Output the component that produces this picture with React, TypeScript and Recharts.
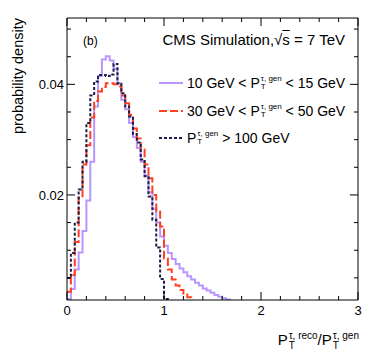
import React from 'react';
import { LineChart, Line, XAxis, YAxis } from 'recharts';

// bin low edges (last entry closes the histogram range)
const binEdges = [
  0, 0.04, 0.08, 0.12, 0.16, 0.2, 0.24, 0.28, 0.32, 0.36, 0.4, 0.44, 0.48, 0.52, 0.56,
  0.6, 0.64, 0.68, 0.72, 0.76, 0.8, 0.84, 0.88, 0.92, 0.96, 1, 1.04, 1.08, 1.12, 1.16,
  1.2, 1.24, 1.28, 1.32, 1.36, 1.4, 1.44, 1.48, 1.52, 1.56, 1.6, 1.64, 1.68, 3,
];

const pt10to15 = [
  0.0012, 0.003, 0.0065, 0.0096, 0.0135, 0.019, 0.026, 0.036, 0.0415, 0.0445, 0.0451, 0.0443, 0.0428, 0.0402, 0.0372,
  0.0355, 0.033, 0.0305, 0.0285, 0.026, 0.0235, 0.0205, 0.0175, 0.015, 0.0125, 0.0108, 0.0095, 0.0084, 0.0075, 0.0067,
  0.006, 0.0053, 0.0047, 0.0041, 0.0036, 0.0031, 0.0027, 0.0023, 0.0019, 0.0016, 0.0013, 0.0011, 0, 0,
];

const pt30to50 = [
  0.0025, 0.0055, 0.0115, 0.0195, 0.0255, 0.029, 0.034, 0.037, 0.0387, 0.0395, 0.0402, 0.0402, 0.04, 0.0396, 0.038,
  0.0366, 0.0345, 0.032, 0.0302, 0.0282, 0.0255, 0.023, 0.02, 0.017, 0.0143, 0.0085, 0.0065, 0.0047, 0.0036, 0.0028,
  0.002, 0.0015, 0.0008, 0, 0, 0, 0, 0, 0, 0, 0, 0, 0, 0,
];

const ptAbove100 = [
  0.005, 0.0095, 0.015, 0.021, 0.026, 0.033, 0.038, 0.0405, 0.0417, 0.0417, 0.0415, 0.0418, 0.0437, 0.0402, 0.0384,
  0.036, 0.0342, 0.031, 0.0295, 0.0264, 0.0234, 0.0197, 0.0155, 0.0105, 0.0048, 0.0012, 0, 0, 0, 0,
  0, 0, 0, 0, 0, 0, 0, 0, 0, 0, 0, 0, 0, 0,
];

const xTicks = [0, 0.2, 0.4, 0.6, 0.8, 1, 1.2, 1.4, 1.6, 1.8, 2, 2.2, 2.4, 2.6, 2.8, 3];
const yTicks = [0.005, 0.01, 0.015, 0.02, 0.025, 0.03, 0.035, 0.04, 0.045, 0.05];

const data = binEdges.map((x, i) => ({ x, a: pt10to15[i], b: pt30to50[i], c: ptAbove100[i] }));

const FONT = '"Liberation Sans", Arial, Helvetica, sans-serif';
const PURPLE = '#b996ff';
const RED = '#ff4020';
const NAVY = '#1c1c4a';

const isMajorX = (v: number) => Math.abs(v - Math.round(v)) < 1e-6;
const isMajorY = (v: number) => Math.abs(v * 50 - Math.round(v * 50)) < 1e-6;

const BottomTick = (p: any) => {
  const v = p.payload.value;
  const major = isMajorX(v);
  return (
    <g>
      <line x1={p.x} x2={p.x} y1={p.y} y2={p.y - (major ? 8 : 4)} stroke="#000" />
      {major && (
        <text x={p.x} y={p.y + 15} textAnchor="middle" fontSize={13} fontFamily={FONT} fill="#000">{v}</text>
      )}
    </g>
  );
};

const TopTick = (p: any) => {
  const major = isMajorX(p.payload.value);
  return <line x1={p.x} x2={p.x} y1={p.y} y2={p.y + (major ? 8 : 4)} stroke="#000" />;
};

const LeftTick = (p: any) => {
  const v = p.payload.value;
  const major = isMajorY(v);
  return (
    <g>
      <line x1={p.x} x2={p.x + (major ? 8 : 4)} y1={p.y} y2={p.y} stroke="#000" />
      {major && (
        <text x={p.x - 3} y={p.y} dy="0.36em" textAnchor="end" fontSize={13} fontFamily={FONT} fill="#000">{v.toFixed(2)}</text>
      )}
    </g>
  );
};

const RightTick = (p: any) => {
  const major = isMajorY(p.payload.value);
  return <line x1={p.x} x2={p.x - (major ? 8 : 4)} y1={p.y} y2={p.y} stroke="#000" />;
};

const SubSup: React.FC<{ sup: string; sub: string; size: number }> = ({ sup, sub, size }) => (
  <span style={{ display: 'inline-flex', flexDirection: 'column', verticalAlign: 'middle', lineHeight: 1, fontSize: size, marginLeft: 1 }}>
    <span>{sup}</span>
    <span>{sub}</span>
  </span>
);

const legendRows = [
  { color: PURPLE, dash: undefined, pre: '10 GeV < P', post: '\u00a0< 15 GeV' },
  { color: RED, dash: '8 3', pre: '30 GeV < P', post: '\u00a0< 50 GeV' },
  { color: NAVY, dash: '3 2', pre: 'P', post: '\u00a0> 100 GeV' },
];

export default function App() {
  return (
    <div style={{ position: 'fixed', left: 0, top: 0, width: 374, height: 363, background: '#fff', fontFamily: FONT, color: '#000' }}>
      <LineChart width={374} height={363} data={data} margin={{ top: 17, right: 15, bottom: 0, left: 1 }}>
        <XAxis dataKey="x" type="number" domain={[0, 3]} ticks={xTicks} interval={0} height={63}
          tickSize={0} tickMargin={0} tickLine={false} tick={<BottomTick />} axisLine={{ stroke: '#000' }} />
        <XAxis xAxisId="top" orientation="top" dataKey="x" type="number" domain={[0, 3]} ticks={xTicks} interval={0} height={1}
          tickSize={0} tickMargin={0} tickLine={false} tick={<TopTick />} axisLine={{ stroke: '#000' }} />
        <YAxis type="number" domain={[0.001, 0.052]} allowDataOverflow ticks={yTicks} interval={0} width={66}
          tickSize={0} tickMargin={0} tickLine={false} tick={<LeftTick />} axisLine={{ stroke: '#000' }} />
        <YAxis yAxisId="right" orientation="right" type="number" domain={[0.001, 0.052]} allowDataOverflow ticks={yTicks} interval={0} width={1}
          tickSize={0} tickMargin={0} tickLine={false} tick={<RightTick />} axisLine={{ stroke: '#000' }} />
        <Line type="stepAfter" dataKey="a" stroke={PURPLE} strokeWidth={2} dot={false} isAnimationActive={false} />
        <Line type="stepAfter" dataKey="b" stroke={RED} strokeWidth={2} strokeDasharray="8 3" dot={false} isAnimationActive={false} />
        <Line type="stepAfter" dataKey="c" stroke={NAVY} strokeWidth={2} strokeDasharray="3 2" dot={false} isAnimationActive={false} />
      </LineChart>

      <svg width={374} height={363} style={{ position: 'absolute', left: 0, top: 0, pointerEvents: 'none' }}>
        <text transform="rotate(-90)" x={-18} y={23} textAnchor="end" fontSize={14.5} fontFamily={FONT} fill="#000">probability density</text>
        <text x={83} y={45} fontSize={12} fontFamily={FONT} fill="#000">(b)</text>
      </svg>

      <div style={{ position: 'absolute', right: 29, top: 30, fontSize: 15, lineHeight: '20px', whiteSpace: 'nowrap' }}>
        CMS Simulation,√<span style={{ textDecoration: 'overline' }}>s</span> = 7 TeV
      </div>

      {legendRows.map((r, i) => (
        <div key={i} style={{ position: 'absolute', left: 159, top: 72 + i * 27.7, height: 22, display: 'flex', alignItems: 'center', fontSize: 14, whiteSpace: 'nowrap' }}>
          <svg width={24} height={4} style={{ marginRight: 4 }}>
            <line x1={0} x2={24} y1={2} y2={2} stroke={r.color} strokeWidth={2} strokeDasharray={r.dash} />
          </svg>
          <span>{r.pre}</span>
          <SubSup sup="τ, gen" sub="T" size={8} />
          <span>{r.post}</span>
        </div>
      ))}

      <div style={{ position: 'absolute', right: 15, top: 329, fontSize: 15, lineHeight: '22px', whiteSpace: 'nowrap' }}>
        P<SubSup sup="τ, reco" sub="T" size={10} />/P<SubSup sup="τ, gen" sub="T" size={10} />
      </div>
    </div>
  );
}
